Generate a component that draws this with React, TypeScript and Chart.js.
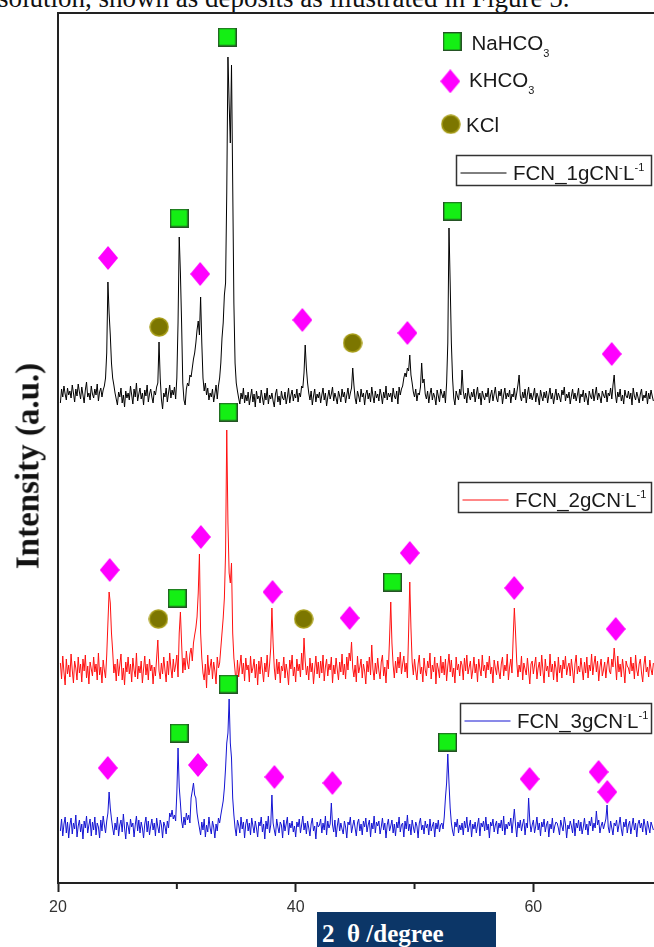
import React, { useEffect, useRef } from 'react';
import { Chart, registerables } from 'chart.js';
Chart.register(...registerables);

// ---- Data: 2θ grid starts at 20.2°, step 0.1° (first row 20.2–20.9, then one row per degree) ----
const X_START = 20.2;
const X_STEP = 0.1;

const FCN_1 = [
  480, 494, 486, 497, 489, 483, 495, 488,
  492, 485, 498, 490, 481, 494, 487, 499, 491, 484,
  496, 488, 480, 493, 501, 486, 490, 483, 497, 489,
  485, 494, 488, 499, 482, 491, 495, 486, 493, 497,
  505, 530, 601, 570, 548, 520, 505, 498, 490, 484,
  478, 491, 486, 495, 480, 488, 476, 492, 485, 490,
  483, 497, 488, 479, 494, 486, 500, 482, 489, 495,
  484, 490, 478, 493, 487, 498, 481, 489, 494, 486,
  480, 492, 488, 496, 500, 541, 505, 484, 474, 490,
  486, 495, 481, 490, 498, 485, 493, 488, 496, 484,
  505, 560, 646, 610, 560, 500, 483, 478, 494, 500,
  497, 508, 506, 515, 524, 530, 540, 553, 562, 548,
  586, 540, 505, 492, 500, 488, 495, 483, 490, 486,
  494, 481, 489, 498, 484, 497, 505, 520, 545, 560,
  588, 600, 690, 826, 780, 740, 818, 700, 580, 520,
  500, 492, 485, 479, 490, 484, 495, 480, 488, 482,
  491, 478, 486, 494, 481, 489, 476, 492, 484, 487,
  480, 493, 485, 478, 490, 483, 495, 479, 488, 484,
  490, 482, 476, 489, 494, 481, 487, 478, 492, 485,
  483, 491, 479, 486, 495, 480, 488, 493, 482, 489,
  485, 494, 481, 490, 486, 497, 495, 510, 538, 515,
  500, 490, 483, 492, 478, 487, 494, 481, 489, 485,
  491, 480, 488, 495, 483, 490, 477, 486, 493, 484,
  489, 496, 482, 490, 485, 479, 492, 487, 481, 494,
  486, 491, 480, 488, 495, 484, 490, 495, 515, 498,
  485, 479, 492, 487, 481, 494, 486, 490, 478, 489,
  493, 484, 490, 481, 496, 487, 480, 492, 485, 489,
  482, 494, 488, 479, 491, 485, 497, 483, 490, 486,
  490, 481, 495, 487, 484, 492, 479, 496, 488, 494,
  497, 505, 510, 506, 515, 512, 528, 508, 500, 491,
  486, 494, 482, 490, 488, 496, 520, 500, 504, 489,
  484, 492, 480, 489, 495, 483, 490, 486, 478, 493,
  487, 481, 494, 489, 485, 492, 480, 500, 540, 655,
  600, 540, 505, 485, 478, 492, 487, 483, 494, 488,
  513, 492, 484, 490, 480, 495, 487, 483, 491, 486,
  494, 481, 489, 496, 484, 490, 478, 492, 487, 483,
  490, 486, 495, 480, 488, 493, 482, 489, 496, 485,
  481, 492, 487, 494, 479, 488, 495, 484, 490, 486,
  493, 480, 489, 486, 495, 483, 490, 498, 508, 487,
  482, 491, 485, 494, 480, 489, 496, 484, 490, 483,
  488, 495, 481, 490, 486, 478, 493, 487, 482, 491,
  485, 492, 480, 488, 495, 484, 490, 479, 487, 494,
  483, 490, 486, 481, 493, 488, 496, 482, 489, 485,
  491, 479, 487, 494, 484, 490, 482, 488, 495, 480,
  489, 486, 493, 481, 490, 485, 478, 492, 487, 484,
  494, 482, 489, 496, 483, 490, 486, 480, 492, 488,
  485, 493, 481, 490, 487, 495, 484, 498, 508, 489,
  480, 491, 486, 494, 482, 488, 479, 493, 487, 485,
  492, 484, 490, 478, 495, 487, 483, 491, 486, 480,
  489, 494, 482, 488, 485, 492, 479, 490, 484, 493,
  487, 482,
];

const FCN_2 = [
  220, 204, 227, 211, 198, 224, 209, 218,
  206, 229, 213, 200, 222, 215, 203, 226, 210, 219,
  201, 224, 212, 228, 205, 217, 199, 221, 214, 207,
  226, 211, 219, 203, 230, 208, 216, 200, 223, 213,
  205, 228, 260, 291, 280, 250, 232, 210, 219, 202,
  224, 207, 218, 229, 203, 215, 198, 221, 211, 226,
  209, 219, 201, 225, 213, 206, 230, 204, 217, 210,
  222, 200, 214, 227, 208, 219, 203, 224, 212, 218,
  199, 216, 207, 225, 243, 212, 204, 220, 209, 226,
  213, 201, 222, 208, 230, 215, 205, 224, 211, 218,
  228, 206, 250, 271, 240, 210, 225, 213, 232, 220,
  214, 229, 235, 222, 240, 248, 255, 266, 290, 329,
  250, 225, 210, 203, 219, 195, 228, 208, 216, 224,
  204, 221, 212, 199, 226, 215, 220, 235, 250, 265,
  285, 330, 453, 360, 310, 300, 320, 250, 225, 212,
  196, 223, 206, 217, 228, 209, 220, 202, 225, 213,
  218, 201, 227, 210, 215, 224, 205, 219, 198, 222,
  209, 226, 213, 201, 220, 211, 228, 206, 218, 235,
  275, 240, 215, 203, 224, 209, 221, 200, 217, 212,
  226, 205, 219, 211, 198, 223, 214, 228, 207, 216,
  201, 224, 212, 219, 206, 230, 213, 245, 222, 208,
  217, 203, 225, 211, 220, 199, 214, 227, 209, 221,
  205, 222, 210, 228, 202, 216, 224, 207, 219, 213,
  226, 200, 218, 209, 225, 213, 203, 221, 211, 229,
  208, 219, 204, 226, 213, 230, 222, 241, 215, 206,
  218, 201, 227, 210, 216, 224, 205, 219, 212, 199,
  222, 211, 226, 208, 238, 214, 203, 220, 209, 225,
  212, 204, 221, 228, 207, 216, 200, 223, 214, 245,
  281, 240, 218, 205, 222, 210, 226, 215, 231, 209,
  219, 227, 211, 220, 205, 250, 301, 255, 221, 208,
  224, 212, 203, 219, 228, 209, 216, 201, 225, 213,
  207, 222, 215, 230, 204, 218, 211, 226, 199, 220,
  214, 205, 227, 210, 221, 208, 224, 202, 217, 229,
  211, 223, 206, 215, 200, 226, 213, 219, 207, 222,
  218, 203, 225, 212, 228, 209, 216, 222, 204, 213,
  226, 210, 219, 201, 224, 214, 207, 228, 212, 218,
  205, 221, 213, 227, 209, 216, 200, 223, 215, 208,
  222, 211, 204, 219, 226, 207, 218, 212, 229, 203,
  216, 224, 210, 245, 275, 250, 221, 206, 218, 211,
  227, 203, 220, 214, 208, 225, 212, 199, 219, 222,
  209, 218, 226, 204, 215, 221, 207, 228, 213, 200,
  224, 212, 217, 206, 229, 211, 219, 203, 222, 215,
  201, 226, 210, 218, 205, 223, 214, 227, 208, 216,
  220, 207, 224, 213, 200, 219, 228, 209, 217, 211,
  225, 214, 203, 221, 210, 226, 205, 218, 212, 229,
  208, 219, 227, 211, 222, 202, 216, 224, 207, 213,
  221, 205, 218, 226, 212, 209, 224, 216, 235, 220,
  203, 227, 211, 219, 206, 224, 214, 200, 222, 217,
  215, 209, 226, 212, 220, 204, 228, 213, 207, 219,
  224, 210, 201, 218, 227, 211, 216, 206, 223, 214,
  208, 220,
];

const FCN_3 = [
  52, 64, 47, 59, 66, 50, 61, 45,
  58, 65, 49, 60, 54, 68, 46, 57, 63, 51,
  59, 44, 62, 55, 67, 50, 58, 64, 47, 61,
  53, 66, 48, 60, 56, 45, 63, 52, 67, 58,
  50, 62, 70, 91, 75, 64, 55, 48, 60, 53,
  66, 47, 58, 63, 51, 69, 55, 44, 61, 57,
  49, 64, 56, 60, 46, 58, 67, 52, 63, 50,
  61, 55, 45, 59, 66, 51, 62, 48, 57, 64,
  53, 60, 47, 65, 56, 50, 63, 58, 45, 61,
  57, 49, 62, 55, 70, 66, 73, 64, 68, 62,
  90, 135, 96, 80, 62, 55, 66, 58, 70, 63,
  68, 60, 85, 92, 100, 88, 85, 70, 62, 55,
  48, 61, 53, 64, 46, 58, 51, 66, 55, 49,
  62, 56, 45, 59, 52, 65, 60, 68, 75, 82,
  95, 115, 140, 150, 184, 140, 125, 85, 68, 55,
  47, 63, 58, 50, 66, 54, 61, 45, 59, 64,
  52, 60, 48, 65, 57, 50, 62, 55, 46, 61,
  57, 66, 51, 59, 44, 62, 54, 67, 50, 58,
  88, 60, 53, 47, 64, 56, 50, 61, 58, 45,
  63, 52, 59, 66, 48, 60, 55, 62, 51, 57,
  46, 61, 56, 64, 50, 58, 67, 53, 60, 49,
  62, 55, 47, 59, 65, 52, 57, 44, 61, 56,
  58, 64, 50, 60, 53, 67, 48, 62, 55, 59,
  80, 58, 51, 63, 46, 57, 65, 52, 60, 54,
  49, 62, 56, 45, 61, 58, 66, 50, 57, 63,
  55, 47, 60, 64, 52, 59, 48, 62, 56, 65,
  51, 58, 63, 46, 60, 54, 67, 50, 61, 57,
  62, 49, 56, 65, 53, 60, 45, 58, 64, 52,
  57, 63, 50, 59, 47, 61, 55, 66, 51, 58,
  60, 46, 62, 54, 68, 52, 59, 48, 63, 56,
  50, 61, 57, 45, 60, 65, 53, 58, 49, 62,
  55, 59, 48, 64, 52, 57, 61, 46, 60, 54,
  63, 51, 58, 60, 54, 66, 85, 100, 129, 100,
  75, 60, 52, 47, 61, 56, 64, 50, 58, 53,
  60, 48, 62, 55, 66, 51, 57, 63, 46, 59,
  54, 61, 50, 58, 65, 47, 60, 56, 62, 52,
  66, 53, 59, 45, 61, 57, 64, 51, 58, 62,
  49, 60, 55, 63, 52, 67, 48, 59, 54, 61,
  57, 65, 50, 62, 74, 58, 46, 61, 55, 63,
  52, 59, 64, 48, 60, 55, 85, 62, 51, 58,
  63, 50, 57, 66, 53, 60, 47, 61, 56, 64,
  51, 58, 62, 46, 59, 54, 65, 50, 57, 61,
  60, 55, 48, 63, 57, 52, 66, 59, 45, 58,
  54, 62, 57, 50, 64, 47, 60, 55, 63, 52,
  61, 49, 56, 65, 53, 59, 48, 62, 57, 66,
  52, 60, 55, 72, 58, 63, 50, 57, 61, 54,
  59, 64, 78, 56, 50, 62, 55, 48, 60, 57,
  63, 51, 58, 66, 54, 47, 61, 56, 64, 50,
  58, 62, 49, 57, 65, 53, 60, 46, 59, 63,
  55, 60, 51, 64, 57, 48, 62, 56, 50, 61,
  57, 53,
];

// Phase markers (2θ, intensity a.u.)
const NAHCO3_X = [34.24, 30.19, 53.19, 34.32, 30.03, 48.14, 30.19, 34.32, 52.77];
const NAHCO3_Y = [846, 665, 672, 471, 285, 301, 150, 199, 141];
const KHCO3_X = [24.21, 31.96, 40.56, 49.4, 66.59, 24.35, 32.02, 38.05, 44.54, 49.6, 58.39, 66.93, 24.19, 31.78, 38.21, 43.09, 59.68, 65.49, 66.22];
const KHCO3_Y = [625, 609, 563, 550, 529, 313, 346, 291, 265, 330, 295, 254, 115, 118, 106, 100, 104, 111, 91];
const KCL_X = [28.51, 44.79, 28.45, 40.67];
const KCL_Y = [556, 540, 264, 264];

const SERIES_LABELS = ['FCN_1gCN', 'FCN_2gCN', 'FCN_3gCN'];
const SERIES_COLORS = ['#000000', '#ff1010', '#1414d2'];
const X_MAJOR_TICKS = [20, 40, 60];
const X_MINOR_TICKS = [30, 50];

const W = 654;
const H = 947;
const PLOT_LEFT = 58;
const PLOT_TOP = 13;
const PLOT_BOTTOM = 883;

function makeSquare(): HTMLCanvasElement {
  const c = document.createElement('canvas');
  c.width = 19; c.height = 19;
  const g = c.getContext('2d')!;
  g.fillStyle = '#14ef14';
  g.fillRect(0, 0, 19, 19);
  g.strokeStyle = '#245424';
  g.lineWidth = 1.4;
  g.strokeRect(0.7, 0.7, 17.6, 17.6);
  return c;
}
function makeDiamond(): HTMLCanvasElement {
  const c = document.createElement('canvas');
  c.width = 20; c.height = 24;
  const g = c.getContext('2d')!;
  g.fillStyle = '#ff00ff';
  g.beginPath();
  g.moveTo(10, 0); g.lineTo(20, 12); g.lineTo(10, 24); g.lineTo(0, 12);
  g.closePath(); g.fill();
  return c;
}
function makeCircle(): HTMLCanvasElement {
  const c = document.createElement('canvas');
  c.width = 20; c.height = 20;
  const g = c.getContext('2d')!;
  g.fillStyle = '#7c7600';
  g.strokeStyle = '#a79d18';
  g.lineWidth = 1.5;
  g.beginPath(); g.arc(10, 10, 9, 0, Math.PI * 2); g.fill(); g.stroke();
  return c;
}

function drawRich(ctx: CanvasRenderingContext2D, x: number, y: number, parts: [string, string][], size: number) {
  let cx = x;
  for (const [t, kind] of parts) {
    const s = kind === 'n' ? size : Math.round(size * 0.55);
    ctx.font = `${s}px "Liberation Sans", Arial, sans-serif`;
    const dy = kind === 'sub' ? 7 : kind === 'sup' ? -9 : 0;
    ctx.fillText(t, cx, y + dy);
    cx += ctx.measureText(t).width + (kind === 'n' ? 0 : 0.5);
  }
}

export default function App() {
  const ref = useRef<HTMLCanvasElement>(null);
  useEffect(() => {
    if (!ref.current) return;
    const sq = makeSquare();
    const dm = makeDiamond();
    const ci = makeCircle();
    const toXY = (arr: number[]) => arr.map((y, i) => ({ x: +(X_START + i * X_STEP).toFixed(2), y }));
    const pts = (xs: number[], ys: number[]) => xs.map((x, i) => ({ x, y: ys[i] }));

    const overlay = {
      id: 'overlay',
      afterDraw(chart: any) {
        const ctx = chart.ctx as CanvasRenderingContext2D;
        const xs = chart.scales.x;
        const area = chart.chartArea;
        ctx.save();
        ctx.strokeStyle = '#222';
        ctx.lineWidth = 2;
        ctx.beginPath();
        ctx.moveTo(area.left, area.top);
        ctx.lineTo(W, area.top);
        ctx.stroke();
        for (const v of X_MINOR_TICKS) {
          const px = xs.getPixelForValue(v);
          ctx.beginPath();
          ctx.moveTo(px, area.bottom);
          ctx.lineTo(px, area.bottom + 6);
          ctx.stroke();
        }
        ctx.fillStyle = '#1a1a1a';
        ctx.textBaseline = 'alphabetic';
        ctx.drawImage(sq, 452 - 9.5, 41.5 - 9.5);
        drawRich(ctx, 471.5, 49.5, [['NaHCO', 'n'], ['3', 'sub']], 20.5);
        ctx.drawImage(dm, 450.3 - 10, 81.3 - 12);
        drawRich(ctx, 469, 87, [['KHCO', 'n'], ['3', 'sub']], 20.5);
        ctx.drawImage(ci, 450.8 - 10, 124.2 - 10);
        drawRich(ctx, 466, 132, [['KCl', 'n']], 20.5);
        const boxes = [
          { x: 456.5, y: 155.5 },
          { x: 458.5, y: 482.5 },
          { x: 460.5, y: 703.5 },
        ];
        boxes.forEach((b, i) => {
          ctx.strokeStyle = '#333';
          ctx.lineWidth = 1.5;
          ctx.strokeRect(b.x, b.y, 651.5 - b.x, 30);
          ctx.strokeStyle = SERIES_COLORS[i];
          ctx.lineWidth = 1;
          ctx.beginPath();
          ctx.moveTo(b.x + 4, b.y + 17.5);
          ctx.lineTo(b.x + 50, b.y + 17.5);
          ctx.stroke();
          ctx.fillStyle = '#1a1a1a';
          drawRich(ctx, b.x + 56.5, b.y + 24.5, [[SERIES_LABELS[i], 'n'], ['-', 'sup'], ['L', 'n'], ['-1', 'sup']], 20.5);
        });
        ctx.restore();
      },
    };

    const chart = new Chart(ref.current, {
      type: 'line',
      data: {
        datasets: [
          { type: 'scatter', label: 'NaHCO3', data: pts(NAHCO3_X, NAHCO3_Y), pointStyle: sq as any, pointRadius: 10, showLine: false, order: 0, clip: false } as any,
          { type: 'scatter', label: 'KHCO3', data: pts(KHCO3_X, KHCO3_Y), pointStyle: dm as any, pointRadius: 10, showLine: false, order: 0, clip: false } as any,
          { type: 'scatter', label: 'KCl', data: pts(KCL_X, KCL_Y), pointStyle: ci as any, pointRadius: 10, showLine: false, order: 0, clip: false } as any,
          { label: 'FCN_1', data: toXY(FCN_1), borderColor: SERIES_COLORS[0], borderWidth: 1, pointRadius: 0, tension: 0, order: 1 },
          { label: 'FCN_2', data: toXY(FCN_2), borderColor: SERIES_COLORS[1], borderWidth: 1, pointRadius: 0, tension: 0, order: 1 },
          { label: 'FCN_3', data: toXY(FCN_3), borderColor: SERIES_COLORS[2], borderWidth: 1, pointRadius: 0, tension: 0, order: 1 },
        ],
      },
      options: {
        responsive: false,
        animation: false,
        devicePixelRatio: 1,
        layout: { autoPadding: false, padding: { top: PLOT_TOP, left: 0, right: 0, bottom: 0 } },
        plugins: { legend: { display: false }, tooltip: { enabled: false } },
        events: [],
        scales: {
          x: {
            type: 'linear',
            min: 20,
            max: 70.15,
            afterBuildTicks: (s: any) => { s.ticks = X_MAJOR_TICKS.map((v) => ({ value: v })); },
            afterFit: (s: any) => { s.height = H - PLOT_BOTTOM; s.paddingRight = 0; s.paddingLeft = 0; },
            grid: { display: true, drawOnChartArea: false, tickLength: 9, tickWidth: 2, tickColor: '#222' },
            border: { display: true, color: '#222', width: 2 },
            ticks: { color: '#333', padding: 6, font: { family: '"Liberation Sans", Arial, sans-serif', size: 16 }, maxRotation: 0 },
          },
          y: {
            type: 'linear',
            min: 0,
            max: PLOT_BOTTOM - PLOT_TOP,
            afterFit: (s: any) => { s.width = PLOT_LEFT; s.paddingTop = 0; s.paddingBottom = 0; },
            grid: { display: false },
            border: { display: true, color: '#222', width: 2 },
            ticks: { display: false },
          },
        },
      },
      plugins: [overlay],
    } as any);
    return () => chart.destroy();
  }, []);

  return (
    <div style={{ position: 'absolute', left: 0, top: 0, width: W, height: H, overflow: 'hidden', background: '#fff' }}>
      <div style={{ position: 'absolute', left: -2, top: -15, whiteSpace: 'nowrap', fontFamily: '"Liberation Serif", "Times New Roman", serif', fontSize: 27, lineHeight: '27px', color: '#111' }}>
        solution, shown as deposits as illustrated in Figure 5.
      </div>
      <canvas ref={ref} width={W} height={H} style={{ position: 'absolute', left: 0, top: 0, width: W, height: H }} />
      <div style={{ position: 'absolute', left: 27.5, top: 466, transform: 'translate(-50%, -50%) rotate(-90deg)', whiteSpace: 'nowrap', fontFamily: '"Liberation Serif", "Times New Roman", serif', fontWeight: 'bold', fontSize: 33, lineHeight: '33px', color: '#111' }}>
        Intensity (a.u.)
      </div>
      <div style={{ position: 'absolute', left: 317, top: 912, width: 179, height: 40, background: '#0c3667', color: '#fff', boxSizing: 'border-box', paddingLeft: 5, paddingTop: 9, whiteSpace: 'pre', fontFamily: '"Liberation Serif", "Times New Roman", serif', fontWeight: 'bold', fontSize: 25, lineHeight: '25px' }}>
        {'2  θ /degree'}
      </div>
    </div>
  );
}
